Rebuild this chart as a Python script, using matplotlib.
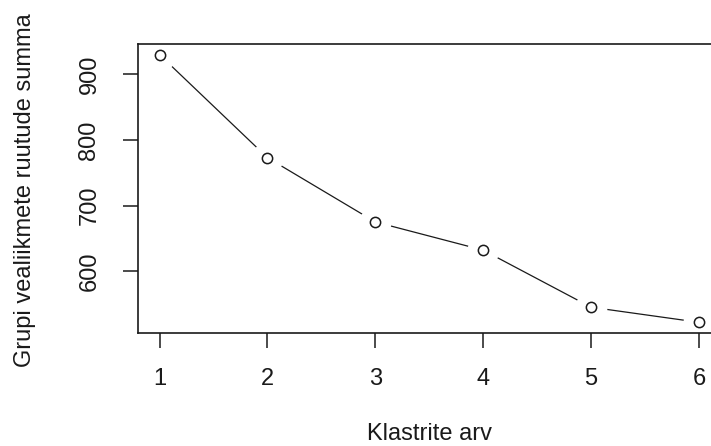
import matplotlib
matplotlib.use("Agg")
import matplotlib.pyplot as plt

clusters = [1, 2, 3, 4, 5, 6]
wss = [930, 773, 675, 632, 545, 522]
xticks = [1, 2, 3, 4, 5, 6]
yticks = [600, 700, 800, 900]
xlabel = "Klastrite arv"
ylabel = "Grupi vealiikmete ruutude summa"

plt.rcParams['font.family'] = ['Liberation Sans', 'DejaVu Sans']

W, H = 711, 446
fig = plt.figure(figsize=(W / 100, H / 100), dpi=100)
left, right, top, bottom = 138, 720.5, 44, 333
ax = fig.add_axes([left / W, 1 - bottom / H, (right - left) / W, (bottom - top) / H])

# line with gaps (R type="b")
ax.plot(clusters, wss, color='#1a1a1a', lw=0.9, zorder=1)
ax.plot(clusters, wss, ls='none', marker='o', ms=23, mfc='white', mec='none', zorder=1.5)
ax.plot(clusters, wss, ls='none', marker='o', ms=7.4, mfc='white', mec='#1a1a1a', mew=1.1, zorder=3)

xr = max(clusters) - min(clusters)
ax.set_xlim(min(clusters) - 0.04 * xr, max(clusters) + 0.04 * xr)
yr = max(wss) - min(wss)
ax.set_ylim(min(wss) - 0.04 * yr, max(wss) + 0.04 * yr)

ax.set_xticks(xticks)
ax.set_yticks(yticks)
ax.tick_params(direction='out', length=11, width=1.1, color='#1a1a1a',
               labelsize=17, labelcolor='#1a1a1a')
ax.tick_params(axis='x', pad=14)
ax.tick_params(axis='y', pad=16)
for lab in ax.get_yticklabels():
    lab.set_rotation(90)
    lab.set_va('center')

for s in ax.spines.values():
    s.set_linewidth(1.2)
    s.set_color('#1a1a1a')
    s.set_zorder(4)

fig.text((left + right) / 2 / W, 1 - 434 / H, xlabel, ha='center', va='center',
         fontsize=17, color='#1a1a1a')
fig.text(25 / W, 1 - 190 / H, ylabel, ha='center', va='center', rotation=90,
         fontsize=17, color='#1a1a1a')

fig.savefig('out.png', dpi=100)
